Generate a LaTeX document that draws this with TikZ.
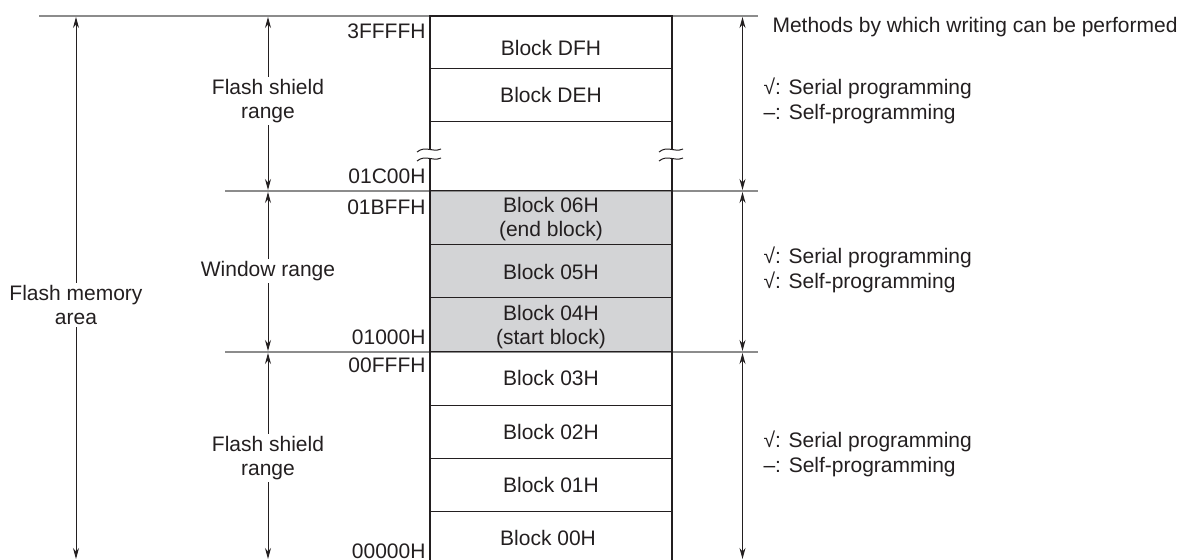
\documentclass[tikz,border=0pt]{standalone}
\usepackage{fontspec}
\setmainfont{Liberation Sans}
\usetikzlibrary{arrows.meta}
\definecolor{MemLine}{HTML}{231F20}
\definecolor{MemGuide}{HTML}{8C8C8C}
\definecolor{MemWin}{HTML}{D3D4D6}

\begin{document}
\begin{tikzpicture}[
    x=0.5pt, y=-0.5pt,
    font=\fontsize{10.5}{12.2}\selectfont,
    % default arrow tip
    >={Stealth[length=5.5pt, width=3pt]},
    line width=0.5pt,
    addr/.style={anchor=east, inner sep=0pt, text=MemLine},
    blk/.style={align=center, inner sep=0pt, text=MemLine},
    rng/.style={align=center, inner sep=1pt, text=MemLine},
    note/.style={anchor=west, align=left, inner sep=0pt, text=MemLine},
    guide/.style={MemGuide, line width=0.6pt},
    dim/.style={MemLine, ->}
]
    \useasboundingbox (0,0) rectangle (1184,560);

    \def\xl{430}
    \def\xr{672}

    % --- 1. window range fill ---
    \fill[MemWin] (\xl,191) rectangle (\xr,352);

    % --- 2. guide lines ---
    \draw[guide] (39,16) -- (758,16);
    \draw[guide] (225,191) -- (758,191);
    \draw[guide] (225,352) -- (758,352);

    % --- 3. block separators ---
    \foreach \y in {69,122,191,245,298,352,406,459,512} {
        \draw[MemLine] (\xl,\y) -- (\xr,\y);
    }

    % --- 4. column outline with break ---
    \draw[MemLine, line width=1pt]
        (\xl,560) -- (\xl,159) (\xl,150) -- (\xl,16) -- (\xr,16) -- (\xr,150)
        (\xr,159) -- (\xr,560);
    \foreach \x in {\xl,\xr} {
        \foreach \y in {150,159} {
            \draw[MemLine] (\x-13,\y+2) .. controls (\x-4,\y-5) and (\x+2,\y+3) .. (\x+11,\y-1);
        }
    }

    % --- 5. blocks ---
    \foreach \name/\y/\txt in {
        bDF/48/{Block DFH},
        bDE/95.5/{Block DEH},
        b06/219/{Block 06H\\(end block)},
        b05/272/{Block 05H},
        b04/327/{Block 04H\\(start block)},
        b03/378/{Block 03H},
        b02/432/{Block 02H},
        b01/485/{Block 01H},
        b00/538/{Block 00H}
    } {
        \node[blk] (\name) at (551,\y) {\txt};
    }

    % --- 6. addresses ---
    \foreach \name/\y/\txt in {
        a3FFFF/31/3FFFFH,
        a01C00/176/01C00H,
        a01BFF/207/01BFFH,
        a01000/337/01000H,
        a00FFF/365/00FFFH,
        a00000/551/00000H
    } {
        \node[addr] (\name) at (426,\y) {\txt};
    }

    % --- 7. ranges on the left ---
    \node[rng] (area) at (76,305) {Flash memory\\area};
    \coordinate (areaT) at (76,17);
    \coordinate (areaB) at (76,559);
    \draw[dim] (area) -- (areaT);
    \draw[dim] (area) -- (areaB);

    \node[rng] (fsTop) at (268,101) {Flash shield\\range};
    \coordinate (fsTopT) at (268,17);
    \coordinate (fsTopB) at (268,190);
    \draw[dim] (fsTop) -- (fsTopT);
    \draw[dim] (fsTop) -- (fsTopB);

    \node[rng] (win) at (268,271) {Window range};
    \coordinate (winT) at (268,192);
    \coordinate (winB) at (268,351);
    \draw[dim] (win) -- (winT);
    \draw[dim] (win) -- (winB);

    \node[rng] (fsBot) at (268,458) {Flash shield\\range};
    \coordinate (fsBotT) at (268,353);
    \coordinate (fsBotB) at (268,559);
    \draw[dim] (fsBot) -- (fsBotT);
    \draw[dim] (fsBot) -- (fsBotB);

    % --- 8. writing methods on the right ---
    \coordinate (mTopT) at (742.5,17);
    \coordinate (mTopB) at (742.5,190);
    \coordinate (mWinT) at (742.5,192);
    \coordinate (mWinB) at (742.5,351);
    \coordinate (mBotT) at (742.5,353);
    \coordinate (mBotB) at (742.5,559);
    \draw[dim, <->] (mTopT) -- (mTopB);
    \draw[dim, <->] (mWinT) -- (mWinB);
    \draw[dim, <->] (mBotT) -- (mBotB);

    \node[note] (head) at (772,27) {Methods by which writing can be performed};
    \node[note] (wTop) at (763,101) {√: Serial programming\\–: Self-programming};
    \node[note] (wWin) at (763,270) {√: Serial programming\\√: Self-programming};
    \node[note] (wBot) at (763,454) {√: Serial programming\\–: Self-programming};

\end{tikzpicture}
\end{document}
